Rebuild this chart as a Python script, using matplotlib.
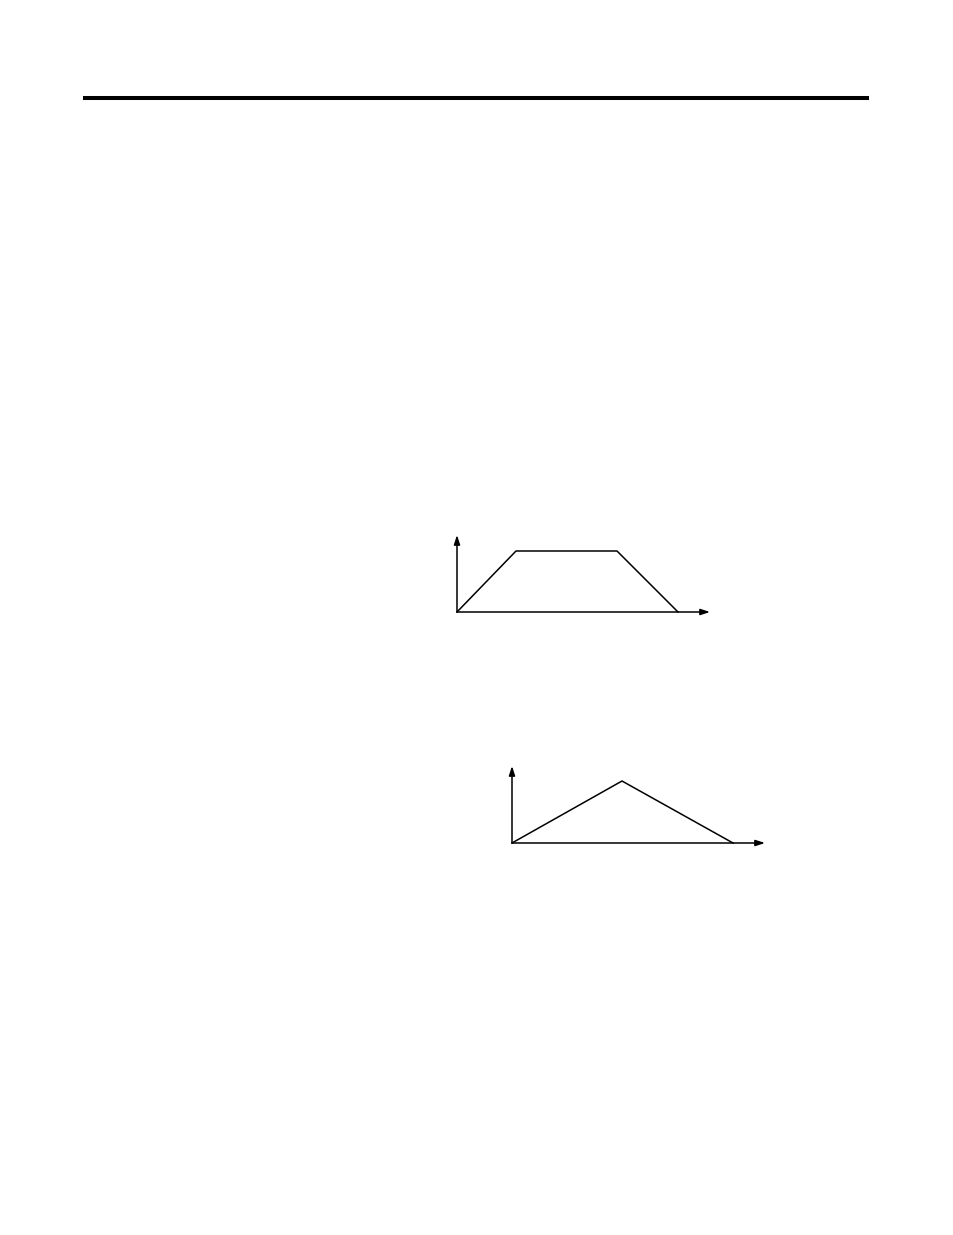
import matplotlib
matplotlib.use("Agg")
import matplotlib.pyplot as plt

FIG_W, FIG_H = 954, 1235

# trapezoidal move profile (time, velocity)
trap_time = [0, 59, 160, 221]
trap_vel = [0, 61, 61, 0]

# triangular move profile
tri_time = [0, 110, 221]
tri_vel = [0, 62, 0]

LINE = 1.1


def profile_axes(fig, left, top, width, height):
    # left/top in page pixels, origin of the diagram at the lower-left corner
    ax = fig.add_axes([left / FIG_W, 1 - (top + height) / FIG_H,
                       width / FIG_W, height / FIG_H])
    ax.set_xlim(0, width)
    ax.set_ylim(0, height)
    ax.axis("off")
    arrow = dict(arrowstyle="-|>,head_length=0.55,head_width=0.18",
                 color="black", lw=LINE, shrinkA=0, shrinkB=0)
    ax.annotate("", xy=(width, 0), xytext=(0, 0), arrowprops=arrow,
                annotation_clip=False)
    ax.annotate("", xy=(0, height), xytext=(0, 0), arrowprops=arrow,
                annotation_clip=False)
    return ax


fig = plt.figure(figsize=(FIG_W / 100, FIG_H / 100), dpi=100)
fig.patch.set_facecolor("white")

# heavy rule at the head of the page
fig.add_artist(plt.Line2D([83 / FIG_W, 869 / FIG_W], [1 - 98 / FIG_H, 1 - 98 / FIG_H],
                          color="black", lw=2.9, solid_capstyle="butt"))

ax1 = profile_axes(fig, 457, 535, 253, 77)
ax1.plot(trap_time, trap_vel, color="black", lw=LINE, clip_on=False)

ax2 = profile_axes(fig, 512, 766, 253, 77)
ax2.plot(tri_time, tri_vel, color="black", lw=LINE, clip_on=False)

fig.savefig("out.png", dpi=100, facecolor="white")
plt.close(fig)
